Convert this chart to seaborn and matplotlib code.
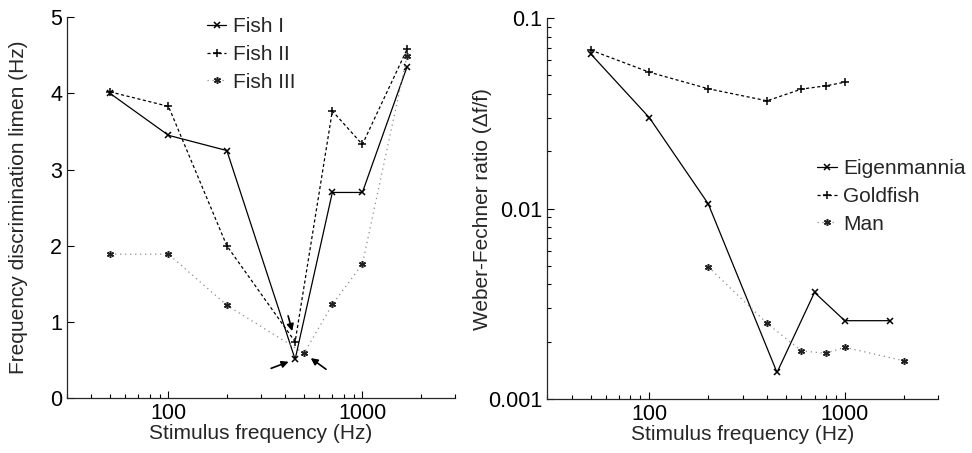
import pandas as pd
import matplotlib
matplotlib.use("Agg")
import matplotlib.pyplot as plt
import seaborn as sns
from matplotlib.ticker import FixedLocator, NullFormatter, LogLocator

# Left panel: frequency discrimination limen (Hz) of three fish
fish1_freq = [50, 100, 200, 450, 700, 1000, 1700]
fish1_limen = [4.0, 3.45, 3.25, 0.51, 2.7, 2.7, 4.35]
fish2_freq = [50, 100, 200, 450, 700, 1000, 1700]
fish2_limen = [4.02, 3.83, 2.0, 0.74, 3.77, 3.33, 4.58]
fish3_freq = [50, 100, 200, 500, 700, 1000, 1700]
fish3_limen = [1.89, 1.89, 1.22, 0.59, 1.23, 1.76, 4.49]

# Right panel: Weber-Fechner ratio
eigen_freq = [50, 100, 200, 450, 700, 1000, 1700]
eigen_ratio = [0.065, 0.030, 0.0106, 0.00138, 0.00363, 0.00258, 0.00258]
gold_freq = [50, 100, 200, 400, 600, 800, 1000]
gold_ratio = [0.068, 0.052, 0.0426, 0.0368, 0.0424, 0.0441, 0.0461]
man_freq = [200, 400, 600, 800, 1000, 2000]
man_ratio = [0.00495, 0.0025, 0.00179, 0.00174, 0.00187, 0.00159]

sns.set_style("ticks")
plt.rcParams['font.family'] = ['Liberation Sans', 'DejaVu Sans']
plt.rcParams['font.size'] = 15

fig = plt.figure(figsize=(9.72, 4.53), dpi=100)
ax1 = fig.add_axes([0.069, 0.121, 0.399, 0.841])
ax2 = fig.add_axes([0.563, 0.119, 0.402, 0.841])

# (line style, marker, line colour, marker colour, marker size)
styles = [
    ('-', 'x', 'black', 'black', 5),
    ((0, (2.5, 2)), '+', 'black', 'black', 6),
    ((0, (1, 3)), (6, 2, 0), '#8a8a8a', '#222222', 5),
]

left_series = [(fish1_freq, fish1_limen, 'Fish I'),
               (fish2_freq, fish2_limen, 'Fish II'),
               (fish3_freq, fish3_limen, 'Fish III')]
right_series = [(eigen_freq, eigen_ratio, 'Eigenmannia'),
                (gold_freq, gold_ratio, 'Goldfish'),
                (man_freq, man_ratio, 'Man')]

for ax, series in [(ax1, left_series), (ax2, right_series)]:
    for (xs, ys, name), (ls, mk, col, mcol, ms) in zip(series, styles):
        df = pd.DataFrame({'f': xs, 'v': ys})
        sns.lineplot(data=df, x='f', y='v', ax=ax, color=col, linestyle=ls,
                     marker=mk, markersize=ms, markeredgewidth=1.1,
                     markeredgecolor=mcol, markerfacecolor=mcol,
                     linewidth=0.9, label=name)

for ax in (ax1, ax2):
    ax.set_xscale('log')
    ax.set_xlim(30, 3000)
    ax.xaxis.set_major_locator(FixedLocator([100, 1000]))
    ax.set_xticklabels(['100', '1000'])
    ax.xaxis.set_minor_locator(LogLocator(base=10, subs=range(2, 10)))
    ax.xaxis.set_minor_formatter(NullFormatter())
    ax.tick_params(which='both', direction='in', width=0.8, colors='black',
                   labelsize=15.5)
    ax.tick_params(which='major', length=5)
    ax.tick_params(which='minor', length=3)
    sns.despine(ax=ax)
    ax.spines['left'].set_linewidth(0.9)
    ax.spines['bottom'].set_linewidth(0.9)
    ax.set_xlabel('Stimulus frequency (Hz)', fontsize=15, labelpad=0)

ax1.set_ylim(0, 5)
ax1.set_yticks([0, 1, 2, 3, 4, 5])
ax1.set_ylabel('Frequency discrimination limen (Hz)', fontsize=15, labelpad=16)

ax2.set_yscale('log')
ax2.set_ylim(0.001, 0.1)
ax2.set_yticks([0.001, 0.01, 0.1])
ax2.set_yticklabels(['0.001', '0.01', '0.1'])
ax2.yaxis.set_minor_locator(LogLocator(base=10, subs=range(2, 10)))
ax2.yaxis.set_minor_formatter(NullFormatter())
ax2.set_ylabel('Weber-Fechner ratio (\u0394f/f)', fontsize=15, labelpad=-3)

leg_kw = dict(frameon=False, fontsize=15, handlelength=0.95, handletextpad=0.3,
              labelspacing=0.42, borderpad=0, borderaxespad=0)
ax1.legend(loc='upper left', bbox_to_anchor=(0.36, 1.0), **leg_kw)
ax2.legend(loc='upper left', bbox_to_anchor=(0.69, 0.63), **leg_kw)

# arrows pointing at the minima
arrow = dict(arrowstyle='-|>', color='black', lw=1.2, mutation_scale=10,
             shrinkA=0, shrinkB=8)
ax1.annotate('', xy=(fish2_freq[3], fish2_limen[3]), xytext=(-7, 26),
             textcoords='offset pixels', arrowprops=arrow)
ax1.annotate('', xy=(fish1_freq[3], fish1_limen[3]), xytext=(-24, -9),
             textcoords='offset pixels', arrowprops=dict(arrow, shrinkB=5))
ax1.annotate('', xy=(fish3_freq[3], fish3_limen[3]), xytext=(22, -16),
             textcoords='offset pixels', arrowprops=dict(arrow, shrinkB=6))

fig.savefig('out.png', dpi=100)
